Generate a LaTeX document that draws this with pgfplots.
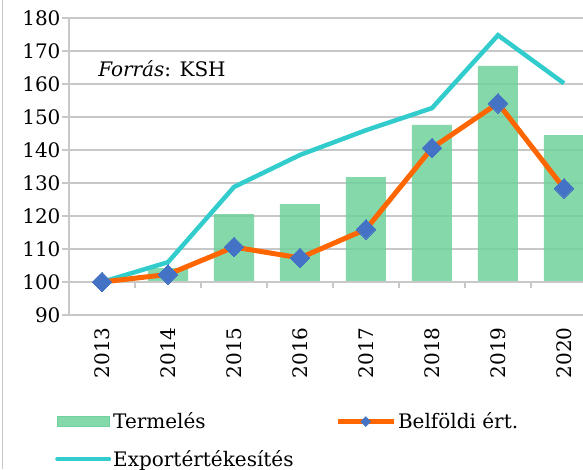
\documentclass[border=0pt]{standalone}
\usepackage{fontspec}
\setmainfont{DejaVu Serif}
\usepackage{pgfplots}
\usepackage{pgfplotstable}
\pgfplotsset{compat=1.18}
\definecolor{barg}{RGB}{111,209,155}
\definecolor{expc}{RGB}{51,204,204}
\definecolor{belc}{RGB}{255,102,0}
\definecolor{dia}{RGB}{68,114,196}
\definecolor{gridc}{RGB}{200,200,200}
\pgfplotstableread{
x year termeles belfoldi export
0 2013 100.0 100.0 100.0
1 2014 104.2 102.3 106.0
2 2015 120.6 110.6 128.8
3 2016 123.6 107.3 138.5
4 2017 131.8 116.0 146.0
5 2018 147.6 140.6 152.7
6 2019 165.5 154.2 174.8
7 2020 144.5 128.4 160.2
}\data
\newcommand{\fs}{\fontsize{20}{23}\selectfont}
\begin{document}
\begin{tikzpicture}
\draw[gridc, line width=1pt] (2pt,0pt) -- (2pt,-469pt);
% bars axis (shifted so that bars start at 100)
\begin{axis}[
  at={(69pt,-315pt)}, anchor=south west, scale only axis,
  width=528pt, height=297pt,
  xmin=-0.5, xmax=7.5, ymin=-10, ymax=80,
  ytick={-10,0,...,80}, yticklabels={90,100,110,120,130,140,150,160,170,180},
  ymajorgrids, grid style={gridc, line width=1.2pt},
  axis x line*=bottom, axis y line*=left,
  axis line style={gridc, line width=1.2pt},
  major tick style={gridc, line width=1.2pt},
  ytick align=outside, major tick length=7pt,
  yticklabel style={font=\fs, text=black, xshift=2pt},
  xtick={0,...,7}, xticklabels={2013,2014,2015,2016,2017,2018,2019,2020},
  xtick style={draw=none},
  xticklabel style={font=\fs, text=black, rotate=90, anchor=east, xshift=-9pt},
]
\addplot[ybar, bar width=40pt, bar shift=0pt, draw=none, fill=barg, fill opacity=0.85]
  table[x=x, y expr=\thisrow{termeles}-100] {\data};
\end{axis}
% lines axis
\begin{axis}[
  at={(69pt,-315pt)}, anchor=south west, scale only axis,
  width=528pt, height=297pt,
  xmin=-0.5, xmax=7.5, ymin=90, ymax=180,
  axis lines=none,
  legend columns=2,
  legend cell align=left,
  legend style={draw=none, fill=none, font=\fs, at={(-0.0265,-0.322)}, anchor=north west,
    inner sep=0pt, row sep=16pt,
    /tikz/every even column/.append style={column sep=40pt}},
]
\draw[gridc, line width=1.2pt] (axis cs:-0.5,100) -- (axis cs:7.5,100);
\pgfplotsinvokeforeach{0.5,1.5,2.5,3.5,4.5,5.5,6.5}{
  \draw[gridc, line width=1.2pt] (axis cs:#1,100) -- ++(0pt,-6pt);
}
\addlegendimage{legend image code/.code={\fill[barg,fill opacity=0.85] (0pt,-5pt) rectangle (52pt,5pt);}}
\addlegendentry{Termelés}
\addlegendimage{legend image code/.code={\draw[belc,line width=4.5pt] (0pt,0pt) -- (56pt,0pt);
   \fill[dia] (23pt,0pt) -- (28pt,5pt) -- (33pt,0pt) -- (28pt,-5pt) -- cycle;}}
\addlegendentry{Belföldi ért.}
\addlegendimage{legend image code/.code={\draw[expc,line width=4pt,line cap=round] (0pt,0pt) -- (52pt,0pt);}}
\addlegendentry{Exportértékesítés}
\addplot[expc, line width=4.5pt, forget plot] table[x=x, y=export] {\data};
\addplot[belc, line width=5pt, mark=square*, mark size=7pt,
  mark options={dia, rotate=45, line width=0pt}, forget plot] table[x=x, y=belfoldi] {\data};
\node[anchor=base west, font=\fs] at (axis cs:-0.11,162.3) {\textit{Forrás}: KSH};
\end{axis}
\pgfresetboundingbox
\useasboundingbox (0pt,0pt) rectangle (583pt,-469pt);
\end{tikzpicture}
\end{document}
